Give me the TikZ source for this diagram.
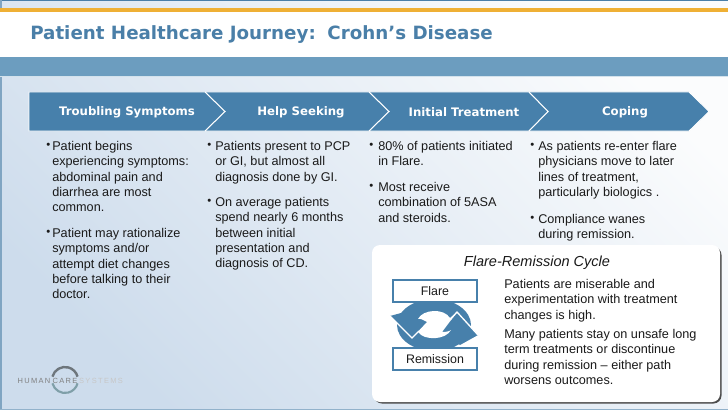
\documentclass[tikz,border=0pt]{standalone}
\usepackage{fontspec}
\setmainfont{Liberation Sans}
\newfontfamily\titlefont{DejaVu Sans}
\usetikzlibrary{calc}
\definecolor{hdr}{HTML}{4A7FA8}
\definecolor{chev}{HTML}{4780AB}
\definecolor{band}{HTML}{6C9DBF}
\definecolor{gold}{HTML}{EFB035}
\definecolor{ink}{HTML}{1A1A1A}
\definecolor{bghi}{HTML}{FBFCFD}
\definecolor{bglo}{HTML}{CDDCEC}
\definecolor{ringtop}{HTML}{7F9FA8}
\definecolor{ringbot}{HTML}{6E767C}
\tikzset{
  x=0.75pt,y=-0.75pt,
  body/.style={anchor=north west,inner sep=0pt,align=left,font=\fontsize{9.5pt}{11.5pt}\selectfont,text=ink},
  bull/.style={anchor=north west,inner sep=0pt,font=\fontsize{8.5pt}{10pt}\selectfont,text=ink},
  panelbody/.style={body},
  chevlabel/.style={inner sep=0pt,text=white,font=\titlefont\bfseries\fontsize{8.8pt}{10pt}\selectfont},
  sep/.style={draw=white,line width=0.8pt},
  statebox/.style={draw=chev,fill=white,line width=0.8pt,minimum width=63pt,minimum height=16.5pt,inner sep=0pt,font=\fontsize{9.3pt}{11pt}\selectfont,text=ink},
  logotxt/.style={inner sep=0pt,font=\fontsize{5.6pt}{6pt}\addfontfeature{LetterSpace=18}\selectfont}
}
\begin{document}
\begin{tikzpicture}
\useasboundingbox (0,0) rectangle (728,410);
% background
\shade[top color=bghi,bottom color=bglo,shading angle=-45] (0,0) rectangle (728,410);
\draw[draw=hdr,line width=1pt] (0,0.5) -- (728,0.5);
\fill[hdr!70!white] (0,0) rectangle (1.5,410);
\fill[hdr!60!white] (0,409) rectangle (728,410);
\fill[white] (0,12) rectangle (728,57);
\fill[gold] (0,8) rectangle (728,12);
\fill[band] (0,57) rectangle (728,76);
\fill[white!70!band] (0,76) rectangle (728,77);
\node[anchor=base west,inner sep=0pt,text=hdr,font=\titlefont\bfseries\fontsize{13.7pt}{16pt}\selectfont] (title) at (30,40) {Patient Healthcare Journey:\, Crohn’s Disease};
% chevron
\fill[chev,draw=white,line width=0.6pt] (29,92) -- (689,92) -- (709,111.5) -- (689,131) -- (29,131) -- cycle;
\draw[sep] (205,92) -- (225,111.5) -- (205,131);
\draw[sep] (369,92) -- (389,111.5) -- (369,131);
\draw[sep] (529,92) -- (548,111.5) -- (529,131);
\node[chevlabel] (c1) at (127,112.5) {Troubling Symptoms};
\node[chevlabel] (c2) at (301,112.5) {Help Seeking};
\node[chevlabel] (c3) at (464,112.5) {Initial Treatment};
\node[chevlabel] (c4) at (625,112.5) {Coping};
% column 1
\node[bull] (b11) at (46,143) {•};
\node[body] (t11) at (52,141) {Patient begins\\experiencing symptoms:\\abdominal pain and\\diarrhea are most\\common.};
\node[bull] (b12) at (46,230) {•};
\node[body] (t12) at (52,228) {Patient may rationalize\\symptoms and/or\\attempt diet changes\\before talking to their\\doctor.};
% column 2
\node[bull] (b21) at (207,143) {•};
\node[body] (t21) at (215,141) {Patients present to PCP\\or GI, but almost all\\diagnosis done by GI.};
\node[bull] (b22) at (207,199) {•};
\node[body] (t22) at (215,197) {On average patients\\spend nearly 6 months\\between initial\\presentation and\\diagnosis of CD.};
% column 3
\node[bull] (b31) at (369,143) {•};
\node[body] (t31) at (378,141) {80\% of patients initiated\\in Flare.};
\node[bull] (b32) at (369,184) {•};
\node[body] (t32) at (378,182) {Most receive\\combination of 5ASA\\and steroids.};
% column 4
\node[bull] (b41) at (530,143) {•};
\node[body] (t41) at (538,141) {As patients re-enter flare\\physicians move to later\\lines of treatment,\\particularly biologics .};
\node[bull] (b42) at (530,216) {•};
\node[body] (t42) at (538,214) {Compliance wanes\\during remission.};
% panel
\fill[black!70,rounded corners=6pt] (374,247) rectangle (721.5,403.5);
\fill[white,rounded corners=6pt] (372,245) rectangle (720,402);
\node[inner sep=0pt,font=\itshape\fontsize{10.9pt}{12pt}\selectfont,text=ink] (ptitle) at (537,263) {Flare-Remission Cycle};
\node[panelbody] (p1) at (504,279) {Patients are miserable and\\experimentation with treatment\\changes is high.};
\node[panelbody] (p2) at (504,329) {Many patients stay on unsafe long\\term treatments or discontinue\\during remission – either path\\worsens outcomes.};
% cycle icon
\fill[chev] (434,325) ellipse (37 and 26);
\fill[chev] (390,316) -- (412,338) -- (427,322) -- (412,310) -- cycle;
\fill[chev] (478,335) -- (457,312) -- (442,332) -- (460,345) -- cycle;
\fill[white] (427,322) .. controls (423,320) and (420,318) .. (418,319) .. controls (423,309) and (444,308) .. (450,318) -- (457,312) -- (442,332) .. controls (447,332) and (450,331) .. (451,330) .. controls (446,340) and (424,341) .. (418,332) -- (412,338) -- cycle;
\draw[white,line width=1pt] (390,316) -- (412,338) -- (419,331);
\draw[white,line width=1pt] (478,335) -- (457,312) -- (450,320);
\node[statebox] (flare) at (435,291) {Flare};
\node[statebox] (remission) at (435,359) {Remission};
% logo
\draw[ringtop,line width=1.6pt] ([shift={(165:13)}]65,380) arc (165:15:13);
\draw[ringbot,line width=1.8pt] ([shift={(195:13)}]65,380) arc (195:345:13);
\node[logotxt,text=black!50] (l1) at (34,381) {HUMAN};
\node[logotxt,text=black!50] (l2) at (65,381) {CARE};
\node[logotxt,text=black!22] (l3) at (101,381) {SYSTEMS};
\end{tikzpicture}
\end{document}
